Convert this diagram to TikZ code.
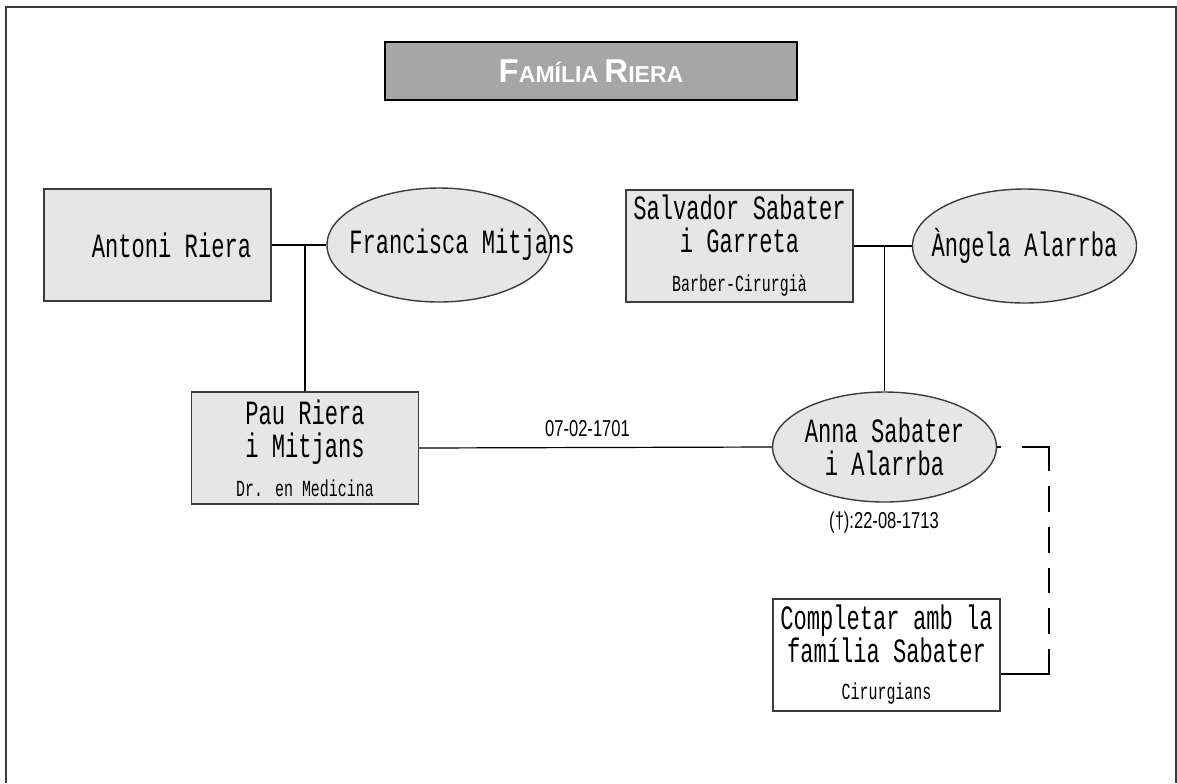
\documentclass[tikz,border=0pt]{standalone}
\usepackage{fontspec}
\usepackage{tikz}
\usetikzlibrary{shapes.geometric}
\setmainfont{Liberation Serif}
\newfontfamily\namefont[FakeStretch=0.65]{Liberation Mono}
\newfontfamily\datefont[FakeStretch=0.72]{Liberation Sans}
\newfontfamily\titlefont{Liberation Sans}
\definecolor{boxgray}{RGB}{230, 230, 230}
\definecolor{titlegray}{RGB}{166, 166, 166}
\definecolor{linegray}{RGB}{60, 60, 60}
\newcommand{\namesize}{\fontsize{17}{16.5}\selectfont}
\newcommand{\jobsize}{\fontsize{11.5}{11.5}\selectfont}

\begin{document}
\begin{tikzpicture}[x=0.5pt, y=-0.5pt,
    person/.style={draw=linegray, fill=boxgray, line width=0.7pt, minimum width=113.5pt, minimum height=56pt, inner sep=0pt, align=center, font=\namefont\namesize},
    spouse/.style={person, ellipse, minimum width=112pt, minimum height=57pt},
    nametext/.style={font=\namefont\namesize, align=center},
    tie/.style={draw=black, line width=0.6pt},
    datelbl/.style={font=\datefont\fontsize{11.5}{12}\selectfont}]
    \useasboundingbox (0,0) rectangle (1177,783);
    \draw[linegray, line width=1pt] (6,783) -- (6,7) -- (1176,7) -- (1176,783);
    \node[draw, line width=1.4pt, fill=titlegray, minimum width=206pt, minimum height=29pt, text=white, font=\titlefont\bfseries] (title) at (591,71)
        {\fontsize{16.5}{17}\selectfont F\fontsize{11.5}{12}\selectfont AMÍLIA \fontsize{16.5}{17}\selectfont R\fontsize{11.5}{12}\selectfont IERA};
    \node[person] (antoni) at (157.5,245) {\hspace*{14pt}Antoni Riera};
    \node[spouse, label={[nametext, xshift=11.5pt]center:Francisca Mitjans}] (francisca) at (439,245) {};
    \node[person] (salvador) at (739.5,246) {Salvador Sabater\\i Garreta\\[3pt]{\jobsize Barber-Cirurgià}};
    \node[spouse, label={[nametext]center:Àngela Alarrba}] (angela) at (1024.5,246) {};
    \node[person] (pau) at (305,448) {Pau Riera\\i Mitjans\\[3pt]{\jobsize Dr. en Medicina}};
    \node[spouse, minimum height=55pt, label={[nametext]center:Anna Sabater\\i Alarrba}] (anna) at (884.5,447) {};
    \node[person, fill=white] (completar) at (886.5,655) {Completar amb la\\família Sabater\\[2pt]{\jobsize Cirurgians}};
    \coordinate (rierajoin) at (pau.north |- antoni.east);
    \coordinate (sabaterjoin) at (anna.north |- salvador.east);
    \coordinate (dashtop) at (1049,447);
    \coordinate (dashbot) at (1049,674);
    \draw[tie] (antoni.east) -- (francisca.west);
    \draw[tie] (rierajoin) -- (pau.north);
    \draw[tie] (salvador.east) -- (angela.west);
    \draw[tie] (sabaterjoin) -- (anna.north);
    \draw[tie] (pau.east) -- node[datelbl, above=2pt, xshift=-4pt] (wedding) {07-02-1701} (anna.west);
    \node[datelbl] (death) at (884,523) {(†):22-08-1713};
    \draw[tie, dash pattern=on 2pt off 10.5pt on 25.5pt off 7.5pt on 13pt off 7.5pt on 13pt off 7.5pt on 12.5pt off 7.5pt on 13pt off 7.5pt on 40pt off 10pt]
        (anna.east) -- (dashtop) -- (dashbot) -- (dashbot -| completar.east);
\end{tikzpicture}
\end{document}
